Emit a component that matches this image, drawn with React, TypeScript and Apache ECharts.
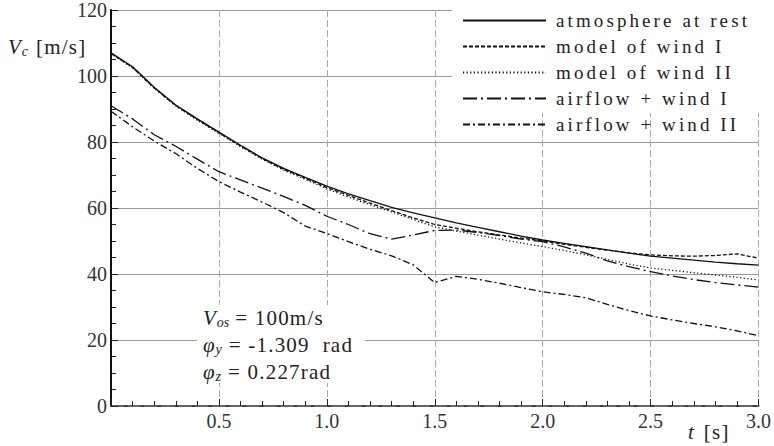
import React, { useEffect, useRef } from 'react';
import * as echarts from 'echarts';

const T = [0, 0.1, 0.2, 0.3, 0.4, 0.5, 0.6, 0.7, 0.8, 0.9, 1.0, 1.1, 1.2, 1.3, 1.4, 1.5, 1.6, 1.7, 1.8, 1.9, 2.0, 2.1, 2.2, 2.3, 2.4, 2.5, 2.6, 2.7, 2.8, 2.9, 3.0];

const atRest = [107, 102.8, 96.6, 91.2, 87, 83, 79, 75.2, 72, 69.3, 66.6, 64.3, 62.2, 60.2, 58.5, 57, 55.5, 54.1, 52.8, 51.5, 50.3, 49.3, 48.3, 47.3, 46.3, 45.4, 44.8, 44.2, 43.6, 43.1, 42.7];
const windI = [106.8, 102.6, 96.4, 91, 86.8, 82.8, 78.8, 75, 71.7, 69, 66.2, 63.8, 61.5, 59.2, 57, 55, 53.9, 52.8, 51.8, 50.9, 50, 49, 48.1, 47.2, 46.4, 45.8, 45.5, 45.4, 45.6, 46.1, 44.8];
const windII = [106.8, 102.5, 96.3, 90.9, 86.6, 82.6, 78.6, 74.8, 71.5, 68.7, 65.8, 63.3, 61, 58.8, 56.5, 54.3, 53, 51.8, 50.6, 49.4, 48.3, 47.1, 45.8, 44.4, 43, 41.8, 41.1, 40.4, 39.7, 39, 38.2];
const airI = [91, 87, 82.2, 78.7, 74.8, 71, 68.5, 66, 63.5, 60.8, 57.5, 55, 52.2, 50.6, 51.8, 53.2, 53.3, 52.6, 51.6, 50.6, 49.8, 48.2, 46.3, 44, 42.2, 40.7, 39.4, 38.3, 37.4, 36.7, 36];
const airII = [89.3, 84.6, 80.3, 76.5, 72, 68, 64.8, 61.8, 58.6, 54.5, 52.3, 49.8, 47.5, 45.5, 42.8, 37.4, 39.3, 38.4, 37.2, 35.9, 34.6, 33.8, 32.8, 30.8, 28.9, 27.3, 26.1, 25, 24, 22.8, 21.3];

const NAMES = ['atmosphere at rest', 'model of wind I', 'model of wind II', 'airflow + wind I', 'airflow + wind II'];
const X_TICKS = [0, 0.5, 1.0, 1.5, 2.0, 2.5, 3.0];
const Y_TICKS = [0, 20, 40, 60, 80, 100, 120];

const FONT = "'Liberation Serif', 'Times New Roman', serif";

export default function App() {
  const ref = useRef<HTMLDivElement>(null);
  useEffect(() => {
    if (!ref.current) return;
    const chart = echarts.init(ref.current, undefined, { renderer: 'svg' });
    const series = [atRest, windI, windII, airI, airII];
    const dashes: any[] = ['solid', [4, 2], [1.2, 2.4], [14, 4, 2, 4], [7, 3, 2, 3]];
    const sub = { fontFamily: FONT, fontSize: 14, fontStyle: 'italic', fill: '#222', padding: [9, 0, 0, 1] };
    const ital = { fontFamily: FONT, fontSize: 21, fontStyle: 'italic', fill: '#222' };
    chart.setOption({
      animation: false,
      backgroundColor: '#fff',
      grid: { left: 111, right: 14, top: 8, bottom: 40, containLabel: false },
      xAxis: [
        {
          type: 'value', min: X_TICKS[0], max: X_TICKS[X_TICKS.length - 1], interval: 0.5,
          axisLine: { lineStyle: { color: '#111', width: 1.5 } },
          axisTick: { show: true, inside: true, length: 7, lineStyle: { color: '#222' } },
          minorTick: { show: true, splitNumber: 5, length: 5, lineStyle: { color: '#222' } },
          axisLabel: {
            color: '#333', fontFamily: FONT, fontSize: 20, margin: 5,
            formatter: (v: number) => (v === 0 ? '' : v.toFixed(1)),
          },
          splitLine: { show: true, lineStyle: { color: '#aaa', width: 1, type: [7, 3] } },
        },
        {
          type: 'value', position: 'top', min: 0, max: 3,
          axisLine: { show: true, lineStyle: { color: '#666', width: 2, type: [12, 5] } },
          axisTick: { show: false }, axisLabel: { show: false }, splitLine: { show: false },
        },
      ],
      yAxis: [
        {
          type: 'value', min: Y_TICKS[0], max: Y_TICKS[Y_TICKS.length - 1], interval: 20,
          axisLine: { show: true, lineStyle: { color: '#111', width: 1.5 } },
          axisTick: { show: true, inside: true, length: 7, lineStyle: { color: '#222' } },
          minorTick: { show: true, splitNumber: 4, length: 5, lineStyle: { color: '#222' } },
          axisLabel: { color: '#333', fontFamily: FONT, fontSize: 20, margin: 4 },
          splitLine: { show: true, lineStyle: { color: '#999', width: 1 } },
        },
        {
          type: 'value', position: 'right', min: 0, max: 120,
          axisLine: { show: true, lineStyle: { color: '#111', width: 2 } },
          axisTick: { show: false }, axisLabel: { show: false }, splitLine: { show: false },
        },
      ],
      legend: {
        show: true, orient: 'vertical', left: 462, top: 11, padding: 0,
        itemWidth: 83, itemHeight: 14, itemGap: 7, z: 10,
        data: NAMES,
        itemStyle: { opacity: 0 },
        textStyle: { color: '#222', fontFamily: FONT, fontSize: 19, padding: [0, 0, 0, 5] },
      },
      graphic: [
        { type: 'rect', z: 5, shape: { x: 452, y: 10, width: 307, height: 103 }, style: { fill: '#fff' } },
        { type: 'rect', z: 5, shape: { x: 197, y: 305, width: 168, height: 78 }, style: { fill: '#fff' } },
        {
          type: 'text', z: 6, x: 203, y: 318,
          style: {
            text: '{i|V}{s|os}{n|= 100m/s}', verticalAlign: 'middle', fill: '#222',
            rich: { i: ital, s: sub, n: { fontFamily: FONT, fontSize: 21, fill: '#222', padding: [0, 0, 0, 6] } },
          },
        },
        {
          type: 'text', z: 6, x: 203, y: 345,
          style: {
            text: '{i|φ}{s|y}{n|= -1.309  rad}', verticalAlign: 'middle', fill: '#222',
            rich: { i: ital, s: sub, n: { fontFamily: FONT, fontSize: 21, fill: '#222', padding: [0, 0, 0, 7] } },
          },
        },
        {
          type: 'text', z: 6, x: 203, y: 372,
          style: {
            text: '{i|φ}{s|z}{n|= 0.227rad}', verticalAlign: 'middle', fill: '#222',
            rich: { i: ital, s: sub, n: { fontFamily: FONT, fontSize: 21, fill: '#222', padding: [0, 0, 0, 7] } },
          },
        },
        {
          type: 'text', z: 6, x: 8, y: 47,
          style: {
            text: '{i|V}{s|c}{n|[m/s]}', verticalAlign: 'middle', fill: '#222',
            rich: { i: ital, s: sub, n: { fontFamily: FONT, fontSize: 21, fill: '#222', padding: [0, 0, 0, 8] } },
          },
        },
        {
          type: 'text', z: 6, x: 688, y: 432,
          style: {
            text: '{i|t}{n|[s]}', verticalAlign: 'middle', fill: '#222',
            rich: { i: ital, n: { fontFamily: FONT, fontSize: 21, fill: '#222', padding: [0, 0, 0, 10] } },
          },
        },
      ],
      series: series.map((d, k) => ({
        name: NAMES[k],
        type: 'line',
        data: T.map((t, i) => [t, d[i]]),
        symbol: 'none',
        showSymbol: false,
        smooth: false,
        z: 3,
        itemStyle: { color: '#111' },
        lineStyle: { color: '#111', width: 1.3, type: dashes[k] },
      })),
    });
    return () => chart.dispose();
  }, []);
  return (
    <>
      <style>{`#root text[style*="19px"]{letter-spacing:3.1px} #root text[style*="21px"]{letter-spacing:1.2px}`}</style>
      <div ref={ref} style={{ position: 'absolute', left: 0, top: 0, width: 774, height: 446 }} />
    </>
  );
}
